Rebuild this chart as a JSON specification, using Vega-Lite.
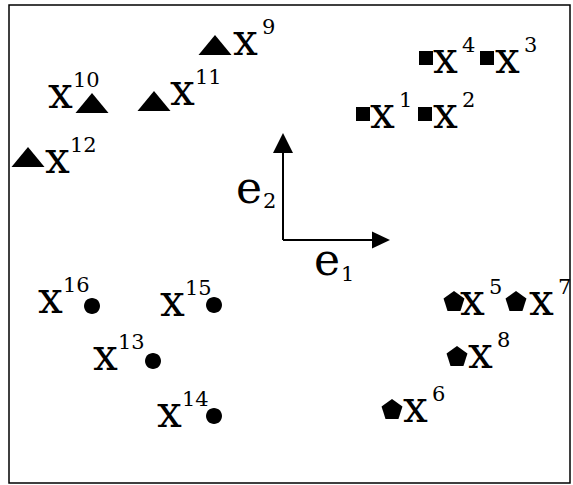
{
  "$schema": "https://vega.github.io/schema/vega-lite/v6.json",
  "width": 561,
  "height": 478,
  "padding": {"left": 9, "top": 5, "right": 3, "bottom": 2},
  "autosize": {"type": "none"},
  "background": "white",
  "config": {"view": {"stroke": "black", "strokeWidth": 1.5}},
  "resolve": {"scale": {"shape": "independent"}},
  "datasets": {
    "pts": [
      {"id": 1, "sup": "1", "group": "square", "u": 354, "v": 369, "lu": 361, "lv": 355},
      {"id": 2, "sup": "2", "group": "square", "u": 416, "v": 369, "lu": 424, "lv": 355},
      {"id": 3, "sup": "3", "group": "square", "u": 478, "v": 425, "lu": 486, "lv": 410},
      {"id": 4, "sup": "4", "group": "square", "u": 417, "v": 425, "lu": 424, "lv": 410},
      {"id": 5, "sup": "5", "group": "pentagon", "u": 445, "v": 181, "lu": 451, "lv": 168},
      {"id": 6, "sup": "6", "group": "pentagon", "u": 383, "v": 73, "lu": 394, "lv": 61},
      {"id": 7, "sup": "7", "group": "pentagon", "u": 507, "v": 181, "lu": 520, "lv": 168},
      {"id": 8, "sup": "8", "group": "pentagon", "u": 448, "v": 126, "lu": 459, "lv": 115},
      {"id": 9, "sup": "9", "group": "triangle", "u": 206, "v": 438, "lu": 224, "lv": 428},
      {"id": 10, "sup": "10", "group": "triangle", "u": 83, "v": 380, "lu": 39, "lv": 375},
      {"id": 11, "sup": "11", "group": "triangle", "u": 145, "v": 382, "lu": 161, "lv": 378},
      {"id": 12, "sup": "12", "group": "triangle", "u": 19, "v": 326, "lu": 36, "lv": 310},
      {"id": 13, "sup": "13", "group": "circle", "u": 144, "v": 122, "lu": 84, "lv": 113},
      {"id": 14, "sup": "14", "group": "circle", "u": 205, "v": 67, "lu": 148, "lv": 56},
      {"id": 15, "sup": "15", "group": "circle", "u": 205, "v": 178, "lu": 151, "lv": 167},
      {"id": 16, "sup": "16", "group": "circle", "u": 83, "v": 177, "lu": 29, "lv": 170}
    ],
    "axes": [
      {"name": "e1", "u": 274, "v": 243, "u2": 366, "v2": 243},
      {"name": "e2", "u": 274, "v": 243, "u2": 274, "v2": 333}
    ],
    "heads": [
      {"dir": "right", "u": 372, "v": 243},
      {"dir": "up", "u": 274, "v": 340}
    ],
    "basis": [
      {"main": "e", "sub": "1", "u": 305, "v": 208, "su": 332, "sv": 202},
      {"main": "e", "sub": "2", "u": 227, "v": 280, "su": 254, "sv": 275}
    ]
  },
  "layer": [
    {
      "data": {"name": "axes"},
      "mark": {"type": "rule", "color": "black", "strokeWidth": 2},
      "encoding": {
        "x": {"field": "u", "type": "quantitative", "scale": {"domain": [0, 561], "nice": false, "zero": false}, "axis": null},
        "y": {"field": "v", "type": "quantitative", "scale": {"domain": [0, 478], "nice": false, "zero": false}, "axis": null},
        "x2": {"field": "u2"},
        "y2": {"field": "v2"}
      }
    },
    {
      "data": {"name": "heads"},
      "mark": {"type": "point", "filled": true, "color": "black", "opacity": 1, "size": 100, "strokeWidth": 0},
      "encoding": {
        "x": {"field": "u", "type": "quantitative", "scale": {"domain": [0, 561], "nice": false, "zero": false}, "axis": null},
        "y": {"field": "v", "type": "quantitative", "scale": {"domain": [0, 478], "nice": false, "zero": false}, "axis": null},
        "shape": {"field": "dir", "type": "nominal", "legend": null,
          "scale": {"domain": ["right", "up"], "range": ["M1.8,0L-1.8,1.7L-1.8,-1.7Z", "M0,-2L2,2L-2,2Z"]}}
      }
    },
    {
      "data": {"name": "pts"},
      "mark": {"type": "point", "filled": true, "color": "black", "opacity": 1, "size": 400, "strokeWidth": 0},
      "encoding": {
        "x": {"field": "u", "type": "quantitative", "scale": {"domain": [0, 561], "nice": false, "zero": false}, "axis": null},
        "y": {"field": "v", "type": "quantitative", "scale": {"domain": [0, 478], "nice": false, "zero": false}, "axis": null},
        "shape": {"field": "group", "type": "nominal", "legend": null,
          "scale": {"domain": ["square", "triangle", "circle", "pentagon"],
                    "range": ["M-0.7,-0.7H0.7V0.7H-0.7Z", "M0,-1L1.65,1L-1.65,1Z", "M-0.8,0A0.8,0.8 0 1,0 0.8,0A0.8,0.8 0 1,0 -0.8,0Z", "M0,-1.1L1.046,-0.34L0.647,0.89L-0.647,0.89L-1.046,-0.34Z"]}}
      }
    },
    {
      "data": {"name": "pts"},
      "mark": {"type": "text", "font": "DejaVu Serif", "fontSize": 44, "align": "left", "baseline": "alphabetic", "color": "black"},
      "encoding": {
        "x": {"field": "lu", "type": "quantitative", "scale": {"domain": [0, 561], "nice": false, "zero": false}, "axis": null},
        "y": {"field": "lv", "type": "quantitative", "scale": {"domain": [0, 478], "nice": false, "zero": false}, "axis": null},
        "text": {"value": "x"}
      }
    },
    {
      "data": {"name": "pts"},
      "transform": [{"filter": "length(datum.sup) == 1"}],
      "mark": {"type": "text", "font": "DejaVu Serif", "fontSize": 21, "align": "left", "baseline": "alphabetic", "color": "black", "dx": 29, "dy": -21},
      "encoding": {
        "x": {"field": "lu", "type": "quantitative", "scale": {"domain": [0, 561], "nice": false, "zero": false}, "axis": null},
        "y": {"field": "lv", "type": "quantitative", "scale": {"domain": [0, 478], "nice": false, "zero": false}, "axis": null},
        "text": {"field": "sup"}
      }
    },
    {
      "data": {"name": "pts"},
      "transform": [{"filter": "length(datum.sup) == 2"}],
      "mark": {"type": "text", "font": "DejaVu Serif", "fontSize": 21, "align": "left", "baseline": "alphabetic", "color": "black", "dx": 25, "dy": -21},
      "encoding": {
        "x": {"field": "lu", "type": "quantitative", "scale": {"domain": [0, 561], "nice": false, "zero": false}, "axis": null},
        "y": {"field": "lv", "type": "quantitative", "scale": {"domain": [0, 478], "nice": false, "zero": false}, "axis": null},
        "text": {"field": "sup"}
      }
    },
    {
      "data": {"name": "basis"},
      "mark": {"type": "text", "font": "DejaVu Serif", "fontSize": 44, "align": "left", "baseline": "alphabetic", "color": "black"},
      "encoding": {
        "x": {"field": "u", "type": "quantitative", "scale": {"domain": [0, 561], "nice": false, "zero": false}, "axis": null},
        "y": {"field": "v", "type": "quantitative", "scale": {"domain": [0, 478], "nice": false, "zero": false}, "axis": null},
        "text": {"field": "main"}
      }
    },
    {
      "data": {"name": "basis"},
      "mark": {"type": "text", "font": "DejaVu Serif", "fontSize": 21, "align": "left", "baseline": "alphabetic", "color": "black"},
      "encoding": {
        "x": {"field": "su", "type": "quantitative", "scale": {"domain": [0, 561], "nice": false, "zero": false}, "axis": null},
        "y": {"field": "sv", "type": "quantitative", "scale": {"domain": [0, 478], "nice": false, "zero": false}, "axis": null},
        "text": {"field": "sub"}
      }
    }
  ]
}
